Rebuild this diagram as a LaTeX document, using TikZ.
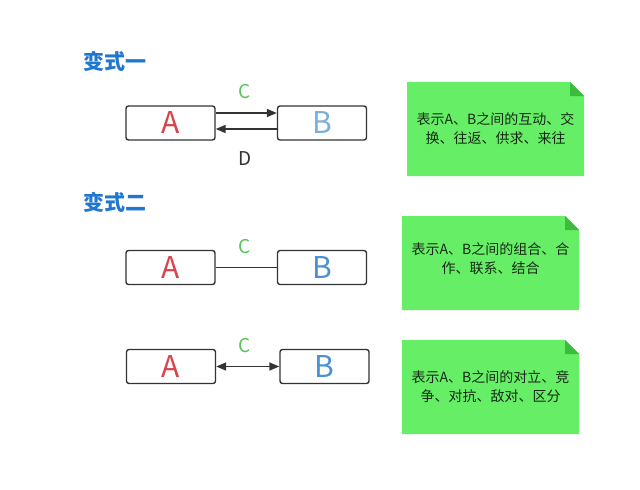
\documentclass[tikz,border=0pt]{standalone}
\usepackage{fontspec}
\setmainfont{Noto Sans CJK SC}
\usetikzlibrary{arrows.meta}
\definecolor{titleblue}{HTML}{1F77D0}
\definecolor{ared}{HTML}{D9434B}
\definecolor{bblue}{HTML}{4A90D2}
\definecolor{bblue1}{HTML}{7AB0DD}
\definecolor{cgreen}{HTML}{5CC25C}
\definecolor{notefill}{HTML}{66EE66}
\definecolor{notefold}{HTML}{3DBB3D}
\definecolor{notetext}{HTML}{142A14}
\definecolor{edge}{HTML}{333333}
\tikzset{
  box/.style={draw=edge, line width=1.4pt, rounded corners=2.5pt, minimum width=89pt, minimum height=34pt, inner sep=0pt, fill=white, font=\fontsize{30}{32}\selectfont},
  ttl/.style={font=\fontsize{21}{24}\selectfont\bfseries, text=titleblue},
  lab/.style={font=\fontsize{19}{22}\selectfont},
  conn/.style={draw=edge, line width=1.6pt},
  tip/.style={-{Triangle[length=10pt,width=8pt]}},
  notetxt/.style={font=\fontsize{14}{19}\selectfont, text=notetext, align=center}
}
\newcommand{\mynote}[4]{% x1 y1 x2 y2
  \fill[notefill] (#1,#2) -- ({#3-14},#2) -- (#3,{#2+14}) -- (#3,#4) -- (#1,#4) -- cycle;
  \fill[notefold] ({#3-14},#2) -- (#3,{#2+14}) -- ({#3-14},{#2+14}) -- cycle;
}
\begin{document}
\begin{tikzpicture}[x=1pt,y=-1pt]
\useasboundingbox (0,0) rectangle (640,490);
\fill[white] (0,0) rectangle (640,490);
% titles
\node[ttl] (t1) at (115,61) {变式一};
\node[ttl] (t2) at (115,202) {变式二};
% variant 1
\node[box, text=ared] (a1) at (170.5,123) {A};
\node[box, text=bblue1] (b1) at (322,123) {B};
\draw[conn, tip] ([yshift=10pt]a1.east) -- ([yshift=10pt]b1.west);
\draw[conn, tip] ([yshift=-6pt]b1.west) -- ([yshift=-6pt]a1.east);
\node[lab, text=cgreen] (c1) at (245,92) {C};
\node[lab, text=edge] (d1) at (245,159) {D};
% variant 2
\node[box, text=ared] (a2) at (170.5,267.5) {A};
\node[box, text=bblue] (b2) at (322,267.5) {B};
\draw[conn] (a2) -- (b2);
\node[lab, text=cgreen] (c2) at (245,247) {C};
% variant 3
\node[box, text=ared] (a3) at (171,366.5) {A};
\node[box, text=bblue] (b3) at (324.5,366.5) {B};
\draw[conn, {Triangle[length=10pt,width=8pt]}-{Triangle[length=10pt,width=8pt]}] (a3) -- (b3);
\node[lab, text=cgreen] (c3) at (245,346) {C};
% notes
\mynote{407}{82}{584}{176}
\node[notetxt] (n1) at (495.5,129) {表示A、B之间的互动、交\\换、往返、供求、来往};
\mynote{402}{216}{579}{310}
\node[notetxt] (n2) at (490.5,259) {表示A、B之间的组合、合\\作、联系、结合};
\mynote{402}{340}{579}{434}
\node[notetxt] (n3) at (490.5,387) {表示A、B之间的对立、竞\\争、对抗、敌对、区分};
\end{tikzpicture}
\end{document}
